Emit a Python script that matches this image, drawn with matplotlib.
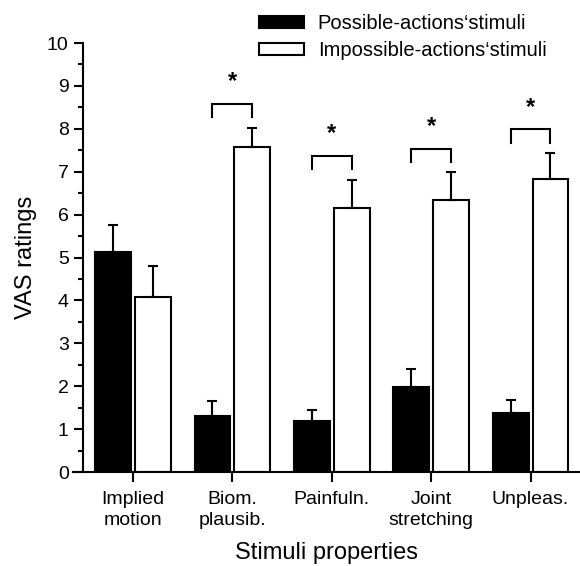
import matplotlib
matplotlib.use('Agg')
import matplotlib.pyplot as plt
import numpy as np

plt.rcParams['font.family'] = ['Liberation Sans', 'DejaVu Sans']

# Data
categories = ['Implied\nmotion', 'Biom.\nplausib.', 'Painfuln.', 'Joint\nstretching', 'Unpleas.']
possible = [5.12, 1.30, 1.18, 1.98, 1.38]
possible_err = [0.63, 0.35, 0.26, 0.43, 0.30]
impossible = [4.08, 7.57, 6.15, 6.35, 6.83]
impossible_err = [0.72, 0.46, 0.66, 0.65, 0.60]
# significance brackets (category index, bracket top)
sig_idx = [1, 2, 3, 4]
sig_top = [8.58, 7.37, 7.54, 7.99]

x = np.arange(len(categories))
w = 0.36
off = 0.2

fig = plt.figure(figsize=(5.80, 5.66), dpi=100)
ax = fig.add_axes([0.1264, 0.166, 0.874, 0.758])

ax.bar(x - off, possible, w, color='black', edgecolor='black', linewidth=1.5,
       label='Possible-actions\u2018stimuli')
ax.bar(x + off, impossible, w, color='white', edgecolor='black', linewidth=1.5,
       label='Impossible-actions\u2018stimuli')
ax.errorbar(x - off, possible, yerr=[np.zeros(len(x)), possible_err], fmt='none',
            ecolor='black', elinewidth=1.5, capsize=3.6, capthick=1.5)
ax.errorbar(x + off, impossible, yerr=[np.zeros(len(x)), impossible_err], fmt='none',
            ecolor='black', elinewidth=1.5, capsize=3.6, capthick=1.5)

# significance brackets with stars
for i, top in zip(sig_idx, sig_top):
    ax.plot([i - off, i - off, i + off, i + off], [top - 0.31, top, top, top - 0.31],
            color='black', lw=1.5, solid_joinstyle='miter')
    ax.text(i, top + 0.36, '*', ha='center', va='baseline', fontsize=17, fontweight='bold')

ax.set_xlim(-0.6, 4.5)
ax.set_ylim(0, 10)
ax.spines['top'].set_visible(False)
ax.spines['right'].set_visible(False)
ax.spines['left'].set_position(('data', -0.5))
ax.spines['left'].set_bounds(0, 10)
for s in ['left', 'bottom']:
    ax.spines[s].set_linewidth(1.5)

ax.set_yticks(np.arange(0, 11, 1))
ax.set_yticks(np.arange(0.5, 10, 1), minor=True)
ax.set_xticks(x)
ax.set_xticklabels(categories, fontsize=14.5, linespacing=1.3)
ax.tick_params(axis='both', which='major', direction='out', width=1.5, labelsize=14)
ax.tick_params(axis='y', which='major', length=6.5, pad=4)
ax.tick_params(axis='y', which='minor', length=3.5, width=1.5)
ax.tick_params(axis='x', which='major', length=7, pad=7)

ax.set_xlabel('Stimuli properties', fontsize=17, labelpad=9)
ax.set_ylabel('VAS ratings', fontsize=17, labelpad=7)

fig.legend(loc='upper left', bbox_to_anchor=(0.447, 0.975), frameon=False, fontsize=14.5,
           handlelength=2.2, handleheight=0.55, handletextpad=0.7, labelspacing=0.4,
           borderaxespad=0, borderpad=0)

fig.savefig('out.png', dpi=100)
